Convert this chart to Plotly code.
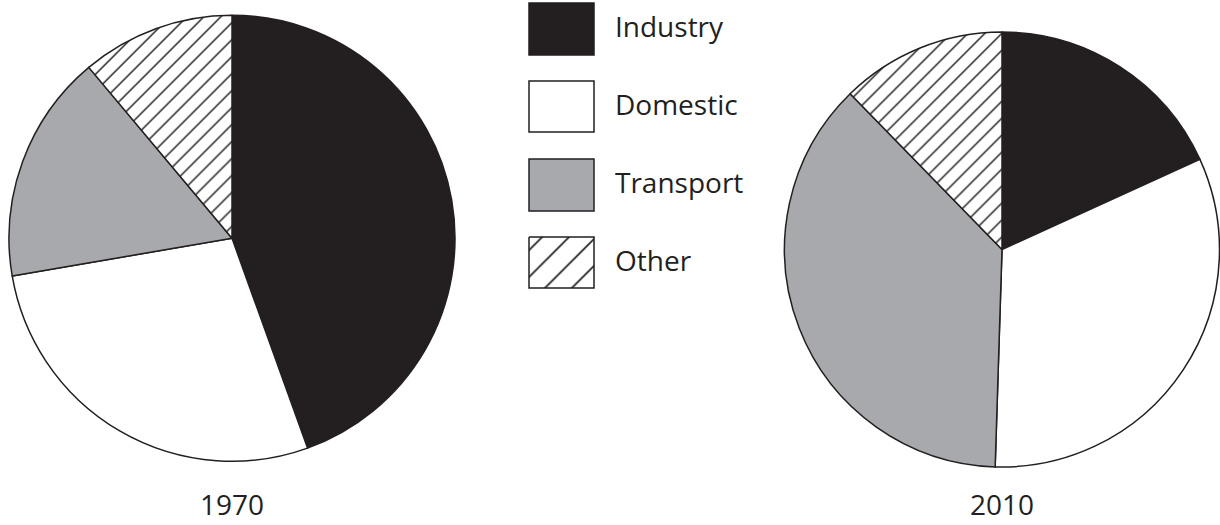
import plotly.graph_objects as go

categories = ["Industry", "Domestic", "Transport", "Other"]
values_1970 = [44.5, 27.8, 16.6, 11.1]
values_2010 = [18.2, 32.3, 37.2, 12.3]
years = ["1970", "2010"]

DARK = "#231f20"
GRAY = "#a7a9ac"
colors = [DARK, "#ffffff", GRAY, "#ffffff"]
patterns = ["", "", "", "/"]
FONT = "Open Sans"

W, H = 1220, 525

def dom_x(cx, r):
    return [(cx - r) / W, (cx + r) / W]

def dom_y(cy, r):
    return [(H - (cy + r)) / H, (H - (cy - r)) / H]

fig = go.Figure()

pies = [(values_1970, 232, 238.3, 223), (values_2010, 1002, 249.5, 217.5)]
for vals, cx, cy, r in pies:
    fig.add_trace(go.Pie(
        labels=categories, values=vals, sort=False, direction="clockwise",
        rotation=0, textinfo="none", hoverinfo="label+percent",
        marker=dict(colors=colors, line=dict(color=DARK, width=1.5),
                    pattern=dict(shape=patterns, fgcolor=DARK, bgcolor="#ffffff",
                                 size=12, solidity=0.12)),
        domain=dict(x=dom_x(cx, r), y=dom_y(cy, r)),
        showlegend=False,
    ))

# Legend (custom)
box_x0, box_x1 = 529, 594
box_rows = [(3, 55), (81, 132), (159, 211), (237, 288)]
for i, (cat, (y0, y1)) in enumerate(zip(categories, box_rows)):
    if patterns[i] == "/":
        fig.add_trace(go.Scatter(
            x=[box_x0, box_x1, box_x1, box_x0, box_x0],
            y=[y0, y0, y1, y1, y0], mode="lines", fill="toself",
            fillcolor="#ffffff",
            fillpattern=dict(shape="/", fgcolor=DARK, fgopacity=1, bgcolor="#ffffff",
                             size=19, solidity=0.09),
            line=dict(color=DARK, width=1.5), showlegend=False, hoverinfo="skip",
            xaxis="x", yaxis="y"))
    else:
        fig.add_shape(type="rect", xref="x", yref="y", x0=box_x0, x1=box_x1, y0=y0, y1=y1,
                      fillcolor=colors[i], line=dict(color=DARK, width=1.5))
    fig.add_annotation(x=613, y=(y0 + y1) / 2 - 3, xref="x", yref="y", text=cat,
                       showarrow=False, xanchor="left", yanchor="middle",
                       font=dict(family=FONT, size=28, color=DARK))

for yr, (vals, cx, cy, r) in zip(years, pies):
    fig.add_annotation(x=cx, y=504, xref="x", yref="y", text=yr, showarrow=False,
                       xanchor="center", yanchor="middle",
                       font=dict(family=FONT, size=28, color=DARK))

fig.update_layout(
    width=W, height=H, margin=dict(l=0, r=0, t=0, b=0),
    paper_bgcolor="#ffffff", plot_bgcolor="rgba(0,0,0,0)",
    xaxis=dict(range=[0, W], visible=False, fixedrange=True, domain=[0, 1]),
    yaxis=dict(range=[H, 0], visible=False, fixedrange=True, domain=[0, 1]),
    showlegend=False,
)

fig.write_html("out.html", config={"displayModeBar": False},
               post_script="document.body.style.margin='0';document.body.style.overflow='hidden';")
